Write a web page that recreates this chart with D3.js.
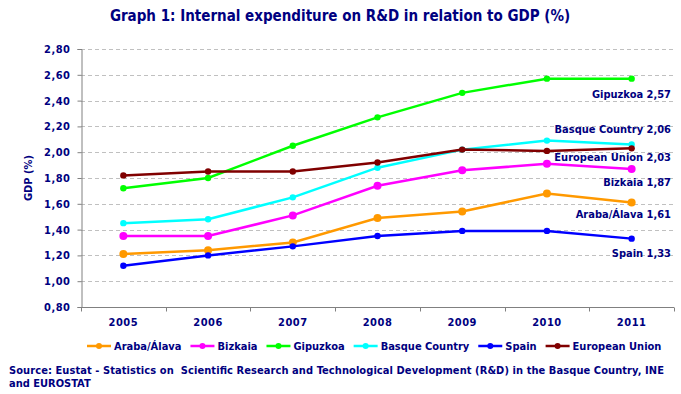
<!DOCTYPE html>
<meta charset="utf-8">
<style>
body { margin: 0; background: #fff; }
text { font-family: "DejaVu Sans Condensed", "DejaVu Sans", sans-serif; font-stretch: condensed; font-weight: bold; fill: #000080; }
.grid line { stroke: #c0c0c0; stroke-dasharray: 4,3; }
.axis path, .axis line { stroke: #808080; }
</style>
<body>
<script src="https://d3js.org/d3.v7.min.js"></script>
<script>

// data
var years = ["2005", "2006", "2007", "2008", "2009", "2010", "2011"];
var names = ["Araba/Álava", "Bizkaia", "Gipuzkoa", "Basque Country", "Spain", "European Union"];
var colors = ["#ff9900", "#ff00ff", "#00ff00", "#00ffff", "#0000ff", "#800000"];
var araba    = [1.21, 1.24, 1.30, 1.49, 1.54, 1.68, 1.61];
var bizkaia  = [1.35, 1.35, 1.51, 1.74, 1.86, 1.91, 1.87];
var gipuzkoa = [1.72, 1.80, 2.05, 2.27, 2.46, 2.57, 2.57];
var basque   = [1.45, 1.48, 1.65, 1.88, 2.02, 2.09, 2.06];
var spain    = [1.12, 1.20, 1.27, 1.35, 1.39, 1.39, 1.33];
var eu       = [1.82, 1.85, 1.85, 1.92, 2.02, 2.01, 2.03];
var yTicks = [0.8, 1.0, 1.2, 1.4, 1.6, 1.8, 2.0, 2.2, 2.4, 2.6, 2.8];

var series = [araba, bizkaia, gipuzkoa, basque, spain, eu].map(function(v, i) {
  return {name: names[i], color: colors[i], values: v};
});

var width = 681, height = 394;
var svg = d3.select("body").append("svg")
    .attr("width", width)
    .attr("height", height);

var x = d3.scaleBand().domain(years).range([81, 674]).padding(0);
var y = d3.scaleLinear().domain([0.8, 2.8]).range([307, 49]);
var fmt = function(v) { return d3.format(".2f")(v).replace(".", ","); };

// title
svg.append("text")
    .attr("x", 340).attr("y", 21)
    .attr("text-anchor", "middle")
    .style("font-size", "15px")
    .text("Graph 1: Internal expenditure on R&D in relation to GDP (%)");

// grid
svg.append("g").attr("class", "grid")
  .selectAll("line")
    .data(yTicks.slice(1))
  .enter().append("line")
    .attr("x1", 81).attr("x2", 674)
    .attr("y1", function(d) { return Math.round(y(d)) + 0.5; })
    .attr("y2", function(d) { return Math.round(y(d)) + 0.5; });

// y axis
var yAxis = svg.append("g").attr("class", "axis")
    .attr("transform", "translate(81.5,0)")
    .call(d3.axisLeft(y).tickValues(yTicks).tickFormat(fmt).tickSize(4).tickPadding(7));
yAxis.selectAll("text").style("font-size", "11px").style("letter-spacing", "0.5px");

// x axis, ticks at band edges
var xAxis = svg.append("g").attr("class", "axis")
    .attr("transform", "translate(0,307.5)");
xAxis.append("line").attr("x1", 81).attr("x2", 674);
xAxis.selectAll(".tk")
    .data(years.concat(["end"]))
  .enter().append("line")
    .attr("x1", function(d, i) { return Math.round(x.range()[0] + i * x.step()) + 0.5; })
    .attr("x2", function(d, i) { return Math.round(x.range()[0] + i * x.step()) + 0.5; })
    .attr("y1", 0).attr("y2", 4);
xAxis.selectAll(".lbl")
    .data(years)
  .enter().append("text")
    .attr("x", function(d) { return x(d) + x.bandwidth() / 2; })
    .attr("y", 18)
    .attr("text-anchor", "middle")
    .style("font-size", "11px")
    .style("letter-spacing", "0.5px")
    .text(function(d) { return d; });

// y axis title
svg.append("text")
    .attr("transform", "translate(32,178) rotate(-90)")
    .attr("text-anchor", "middle")
    .style("font-size", "11px")
    .text("GDP (%)");

// lines and markers
var line = d3.line()
    .x(function(d, i) { return x(years[i]) + x.bandwidth() / 2; })
    .y(function(d) { return y(d); });

var g = svg.selectAll(".series")
    .data(series)
  .enter().append("g");

g.append("path")
    .attr("d", function(d) { return line(d.values); })
    .attr("fill", "none")
    .attr("stroke", function(d) { return d.color; })
    .attr("stroke-width", 2.5);

g.selectAll("circle")
    .data(function(d, i) { return d.values.map(function(v, j) { return {v: v, j: j, c: d.color, s: i}; }); })
  .enter().append("circle")
    .attr("cx", function(d) { return x(years[d.j]) + x.bandwidth() / 2; })
    .attr("cy", function(d) { return y(d.v); })
    .attr("r", function(d) { return d.s < 2 ? 4 : 3.2; })
    .attr("fill", function(d) { return d.c; });

// end labels
var labelDy = [11, 13, 15, -15, 14, 9];
series.forEach(function(s, i) {
  var last = s.values[s.values.length - 1];
  svg.append("text")
      .attr("x", 671)
      .attr("y", y(last) + labelDy[i] + 4)
      .attr("text-anchor", "end")
      .style("font-size", "11px")
      .text(s.name + " " + fmt(last));
});

// legend
var legend = svg.append("g").attr("transform", "translate(0,346)");
var lx = 87;
series.forEach(function(s) {
  var item = legend.append("g").attr("transform", "translate(" + lx + ",0)");
  item.append("line")
      .attr("x1", 0).attr("x2", 24)
      .attr("stroke", s.color).attr("stroke-width", 2.5);
  item.append("circle").attr("cx", 12).attr("r", 3).attr("fill", s.color);
  var t = item.append("text")
      .attr("x", 27).attr("y", 4)
      .style("font-size", "11px")
      .text(s.name);
  lx += 27 + t.node().getComputedTextLength() + 9;
});

// source
var src = svg.append("text")
    .attr("x", 9).attr("y", 374)
    .style("font-size", "11px");
src.append("tspan")
    .attr("xml:space", "preserve")
    .attr("textLength", 655)
    .attr("lengthAdjust", "spacing")
    .text("Source: Eustat - Statistics on  Scientific Research and Technological Development (R&D) in the Basque Country, INE");
src.append("tspan").attr("x", 9).attr("dy", 13).text("and EUROSTAT");

</script>
</body>
